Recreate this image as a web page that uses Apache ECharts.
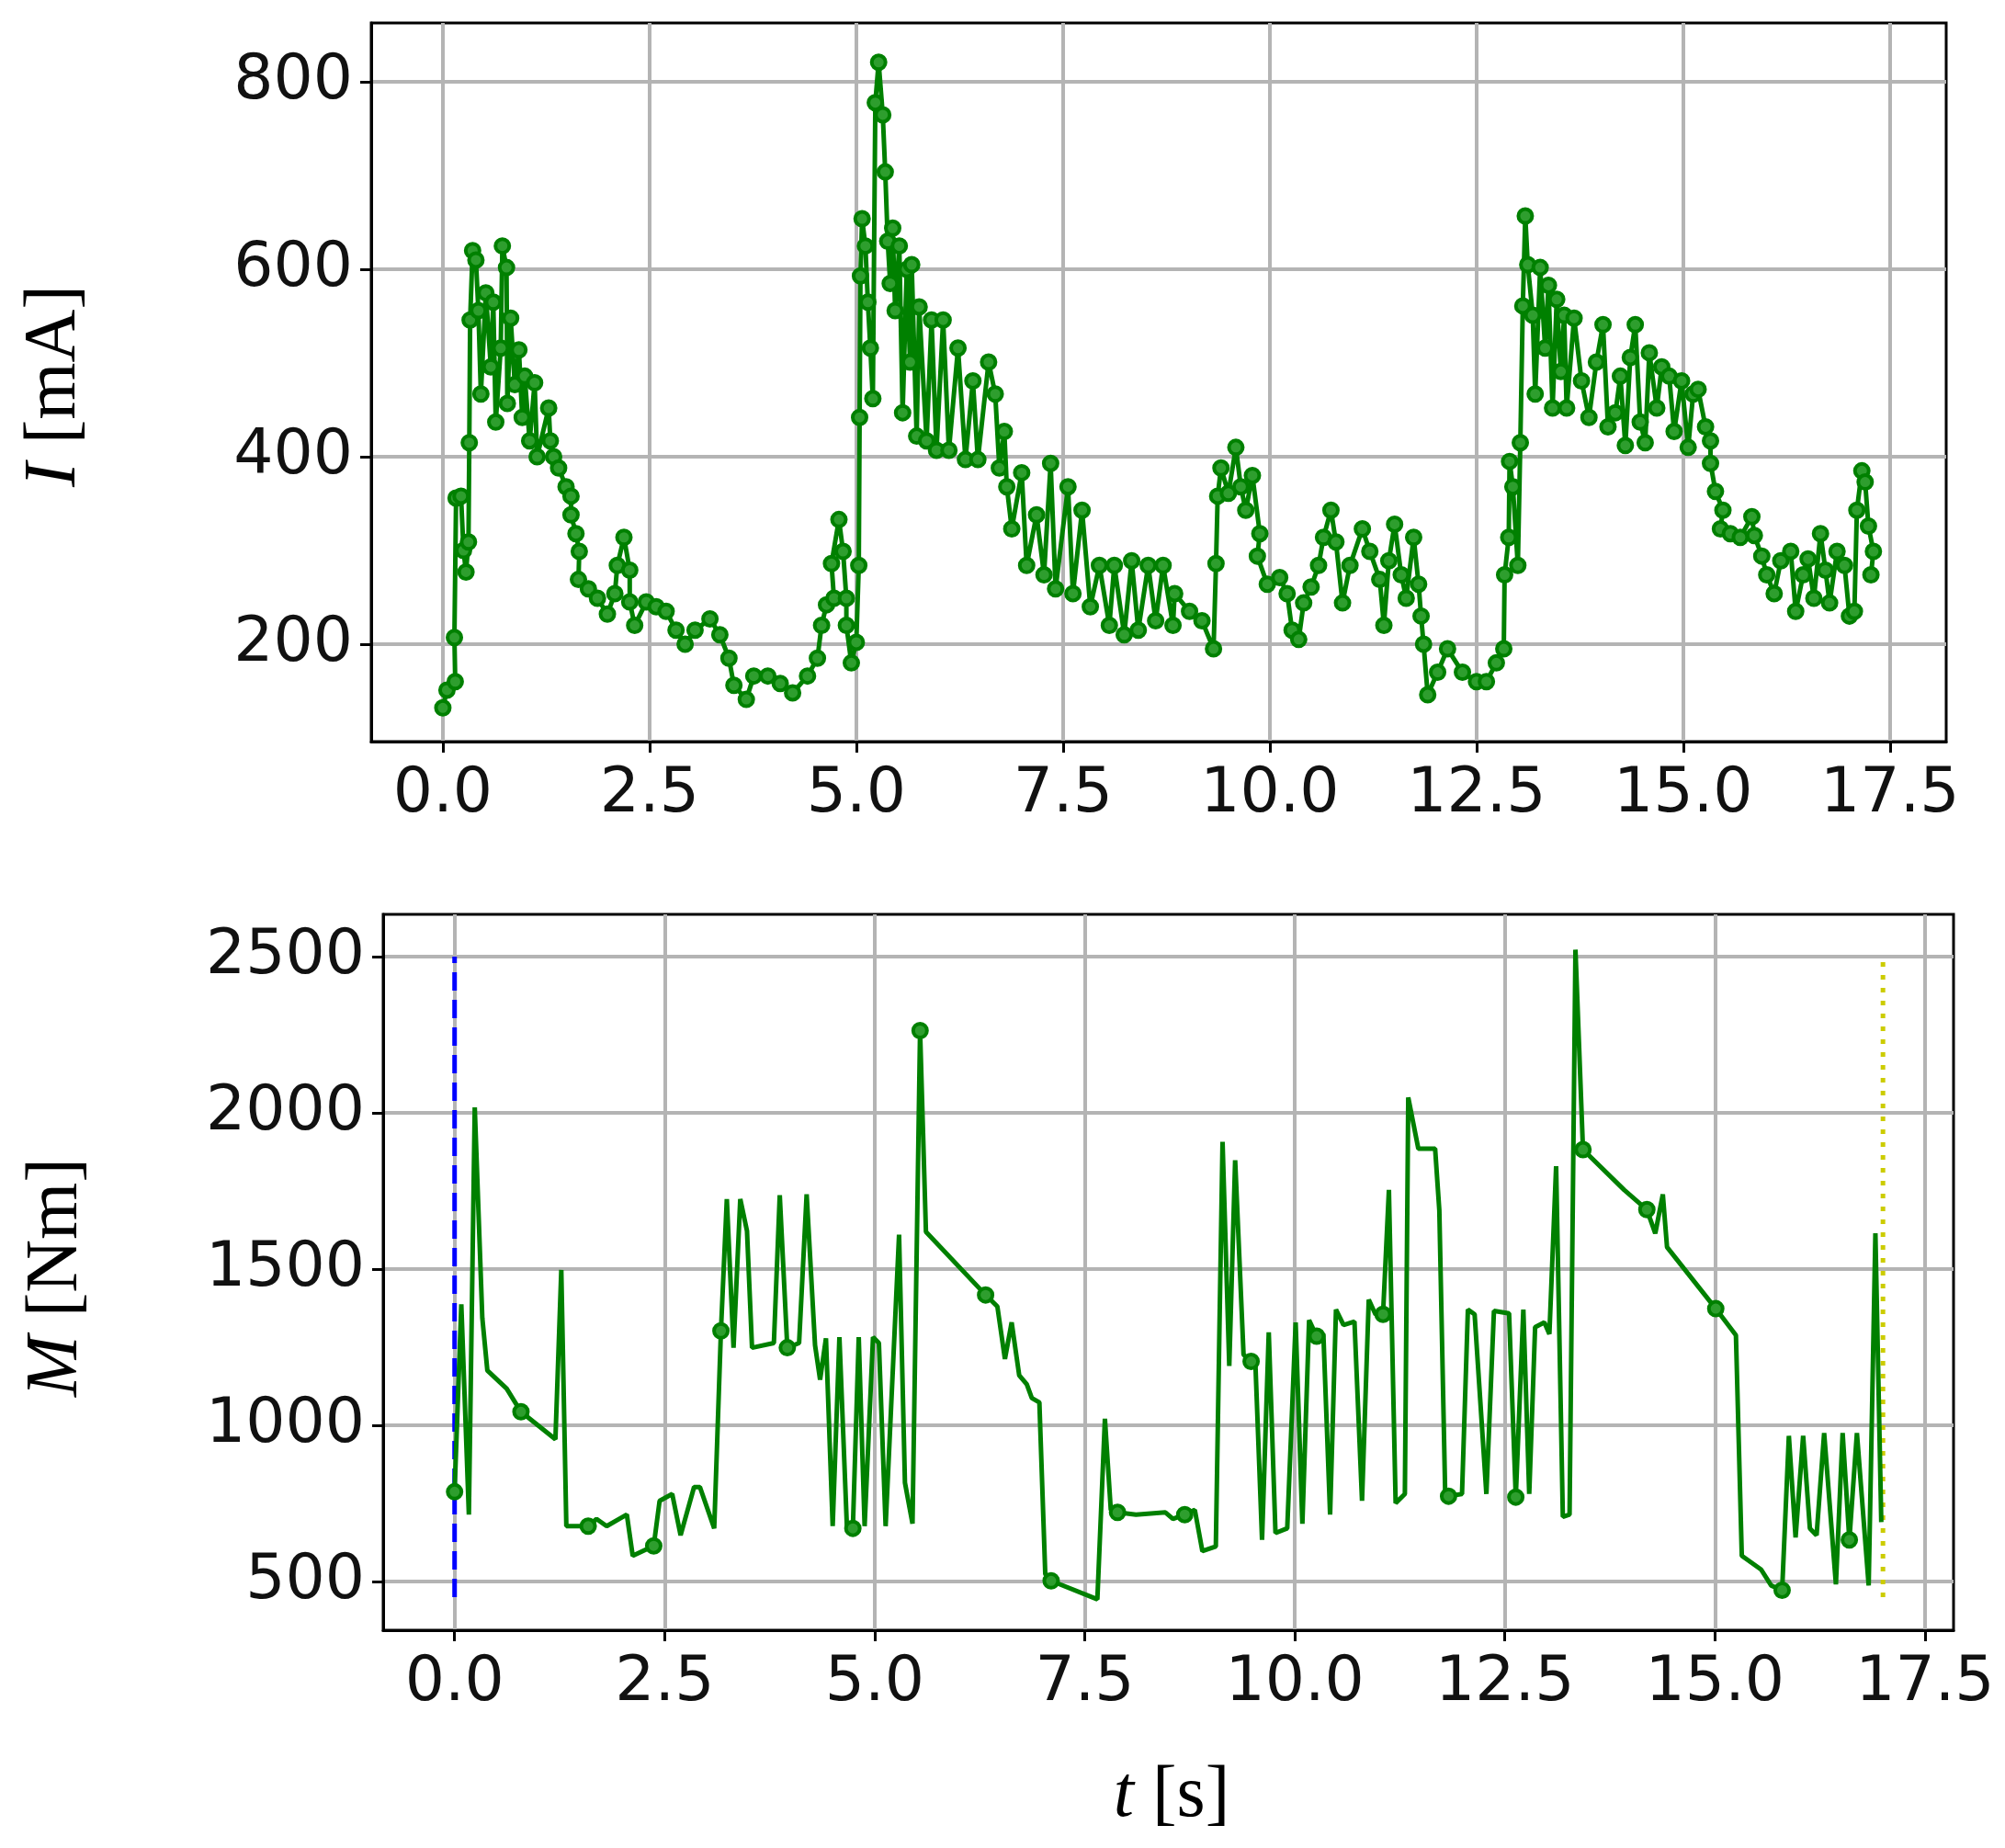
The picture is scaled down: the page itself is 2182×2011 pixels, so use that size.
<!DOCTYPE html>
<html>
<head>
<meta charset="utf-8">
<script src="https://cdn.jsdelivr.net/npm/echarts@6/dist/echarts.min.js"></script>
<style>
html, body { margin: 0; padding: 0; background: #fff; }
#chart { width: 2182px; height: 2011px; }
</style>
</head>
<body>
<div id="chart"></div>
<script>
// current I [mA] over time
const tI = [0, 0.05, 0.15, 0.14, 0.16, 0.22, 0.25, 0.28, 0.31, 0.32, 0.33, 0.36, 0.4, 0.43, 0.46, 0.52, 0.58, 0.61, 0.64, 0.7, 0.72, 0.77, 0.78, 0.82, 0.87, 0.92, 0.96, 0.99, 1.05, 1.11, 1.14, 1.28, 1.3, 1.34, 1.4, 1.49, 1.55, 1.55, 1.61, 1.65, 1.64, 1.76, 1.87, 1.99, 2.08, 2.11, 2.19, 2.26, 2.26, 2.32, 2.46, 2.58, 2.7, 2.82, 2.93, 3.05, 3.23, 3.35, 3.46, 3.52, 3.67, 3.76, 3.93, 4.08, 4.23, 4.41, 4.53, 4.58, 4.64, 4.73, 4.7, 4.79, 4.84, 4.88, 4.88, 4.94, 5.0, 5.03, 5.04, 5.05, 5.07, 5.11, 5.14, 5.17, 5.2, 5.23, 5.27, 5.32, 5.35, 5.38, 5.41, 5.44, 5.47, 5.52, 5.56, 5.61, 5.65, 5.67, 5.73, 5.76, 5.85, 5.91, 5.97, 6.05, 6.12, 6.23, 6.32, 6.41, 6.47, 6.6, 6.68, 6.73, 6.79, 6.82, 6.88, 7.0, 7.06, 7.18, 7.27, 7.35, 7.41, 7.56, 7.62, 7.73, 7.83, 7.94, 8.06, 8.12, 8.24, 8.33, 8.41, 8.53, 8.62, 8.71, 8.83, 8.85, 9.03, 9.18, 9.32, 9.35, 9.37, 9.41, 9.5, 9.59, 9.65, 9.71, 9.79, 9.88, 9.85, 9.97, 10.12, 10.21, 10.27, 10.35, 10.41, 10.5, 10.59, 10.65, 10.74, 10.8, 10.88, 10.97, 11.12, 11.21, 11.33, 11.38, 11.44, 11.51, 11.59, 11.65, 11.74, 11.8, 11.83, 11.86, 11.91, 12.03, 12.15, 12.33, 12.5, 12.62, 12.74, 12.83, 12.84, 12.89, 12.9, 12.94, 13.0, 13.03, 13.06, 13.09, 13.12, 13.18, 13.21, 13.27, 13.33, 13.37, 13.42, 13.47, 13.52, 13.56, 13.59, 13.68, 13.77, 13.86, 13.95, 14.03, 14.09, 14.18, 14.24, 14.3, 14.36, 14.42, 14.48, 14.54, 14.59, 14.68, 14.74, 14.83, 14.89, 14.98, 15.06, 15.12, 15.18, 15.27, 15.33, 15.33, 15.39, 15.48, 15.45, 15.57, 15.69, 15.83, 15.86, 15.95, 16.01, 16.1, 16.18, 16.3, 16.36, 16.45, 16.51, 16.58, 16.66, 16.72, 16.77, 16.86, 16.95, 17.01, 17.07, 17.1, 17.16, 17.2, 17.24, 17.3, 17.27];
const vI = [132, 151, 160, 207, 356, 358, 300, 277, 309, 415, 546, 620, 610, 556, 467, 575, 496, 565, 437, 516, 625, 602, 457, 548, 477, 514, 442, 486, 417, 479, 400, 452, 417, 400, 388, 368, 358, 338, 318, 299, 269, 259, 249, 232, 254, 284, 314, 279, 245, 220, 245, 240, 235, 215, 200, 215, 227, 210, 185, 156, 141, 166, 166, 158, 148, 166, 185, 220, 242, 249, 286, 333, 299, 249, 220, 180, 202, 284, 442, 593, 654, 625, 565, 516, 462, 778, 821, 765, 704, 630, 585, 644, 556, 625, 447, 600, 501, 605, 422, 560, 417, 546, 407, 546, 407, 516, 397, 481, 397, 501, 467, 388, 427, 368, 323, 383, 284, 338, 274, 393, 259, 368, 254, 343, 240, 284, 220, 284, 210, 289, 215, 284, 225, 284, 220, 254, 235, 225, 195, 286, 358, 388, 361, 410, 368, 343, 380, 318, 294, 264, 271, 254, 215, 205, 244, 261, 284, 314, 343, 309, 244, 284, 323, 299, 269, 220, 289, 328, 274, 249, 314, 264, 230, 200, 146, 170, 195, 170, 160, 160, 180, 195, 274, 314, 395, 368, 284, 415, 561, 657, 605, 551, 467, 602, 516, 583, 452, 568, 491, 551, 452, 548, 481, 442, 501, 541, 432, 447, 486, 412, 506, 541, 437, 415, 511, 452, 496, 486, 427, 481, 410, 467, 472, 432, 417, 393, 363, 343, 323, 318, 314, 336, 316, 294, 274, 254, 289, 299, 235, 274, 291, 249, 318, 279, 244, 299, 284, 230, 235, 343, 385, 373, 326, 299, 274];

// torque M [Nm] over time
const tM = [0, 0.08, 0.17, 0.24, 0.33, 0.39, 0.62, 0.79, 1.2, 1.27, 1.33, 1.59, 1.69, 1.81, 2.05, 2.12, 2.37, 2.44, 2.59, 2.69, 2.85, 2.92, 3.09, 3.17, 3.24, 3.32, 3.4, 3.48, 3.54, 3.8, 3.87, 3.96, 4.1, 4.19, 4.29, 4.35, 4.42, 4.5, 4.58, 4.67, 4.74, 4.81, 4.88, 4.98, 5.05, 5.13, 5.29, 5.36, 5.45, 5.54, 5.61, 6.32, 6.46, 6.55, 6.63, 6.72, 6.81, 6.87, 6.96, 7.03, 7.1, 7.65, 7.74, 7.81, 7.89, 8.11, 8.46, 8.55, 8.69, 8.81, 8.9, 9.06, 9.14, 9.22, 9.29, 9.39, 9.48, 9.53, 9.61, 9.69, 9.77, 9.91, 10.01, 10.09, 10.17, 10.26, 10.34, 10.42, 10.49, 10.58, 10.71, 10.8, 10.88, 10.96, 11.05, 11.12, 11.2, 11.31, 11.35, 11.47, 11.67, 11.72, 11.79, 11.83, 11.99, 12.06, 12.14, 12.28, 12.37, 12.55, 12.63, 12.72, 12.79, 12.86, 12.97, 13.03, 13.11, 13.19, 13.27, 13.34, 13.43, 13.92, 14.19, 14.29, 14.38, 14.43, 15.01, 15.25, 15.32, 15.55, 15.67, 15.8, 15.88, 15.96, 16.05, 16.13, 16.21, 16.3, 16.44, 16.52, 16.6, 16.69, 16.83, 16.91, 16.98];
const vM = [787, 1387, 714, 2017, 1343, 1175, 1117, 1043, 955, 1497, 677, 677, 700, 677, 714, 582, 614, 758, 780, 648, 802, 802, 670, 1302, 1724, 1248, 1724, 1622, 1248, 1263, 1736, 1248, 1263, 1739, 1256, 1146, 1278, 677, 1282, 670, 670, 1282, 677, 1282, 1263, 677, 1610, 816, 685, 2263, 1619, 1417, 1380, 1212, 1329, 1160, 1131, 1087, 1073, 524, 502, 443, 1021, 729, 721, 714, 721, 700, 714, 729, 597, 612, 1907, 1190, 1848, 1226, 1204, 1204, 633, 1297, 655, 670, 1329, 685, 1336, 1285, 1292, 714, 1370, 1321, 1332, 758, 1402, 1355, 1355, 1753, 751, 780, 2049, 1885, 1885, 1688, 780, 773, 780, 1370, 1355, 780, 1366, 1358, 770, 1370, 780, 1314, 1329, 1292, 1829, 707, 714, 2522, 1882, 1753, 1690, 1614, 1739, 1570, 1373, 1288, 582, 538, 487, 472, 966, 641, 966, 670, 648, 975, 491, 975, 633, 975, 487, 1614, 690];
const markedM = [0, 7, 11, 16, 23, 31, 40, 49, 51, 60, 64, 68, 76, 85, 94, 103, 110, 120, 122, 126, 131, 140];

const xTicks = [0, 2.5, 5, 7.5, 10, 12.5, 15, 17.5];
const yTicksI = [200, 400, 600, 800];
const yTicksM = [500, 1000, 1500, 2000, 2500];
const markerLineT = [0, 17.0];

const green = '#008000';
const tickFont = { fontFamily: 'DejaVu Sans', fontSize: 68, color: '#111' };

function xAxis(gi, min, max) {
  return {
    type: 'value', gridIndex: gi, min: min, max: max,
    axisLine: { show: true, onZero: false, lineStyle: { color: '#000', width: 3 } },
    axisTick: { show: true, length: 12, customValues: xTicks, lineStyle: { color: '#000', width: 3 } },
    axisLabel: Object.assign({ customValues: xTicks, margin: 24, formatter: v => v.toFixed(1) }, tickFont),
    splitLine: { show: true, lineStyle: { color: '#b4b4b4', width: 4 } }
  };
}
function yAxis(gi, min, max, ticks) {
  return {
    type: 'value', gridIndex: gi, min: min, max: max,
    axisLine: { show: true, onZero: false, lineStyle: { color: '#000', width: 3 } },
    axisTick: { show: true, length: 12, customValues: ticks, lineStyle: { color: '#000', width: 3 } },
    axisLabel: Object.assign({ customValues: ticks, margin: 20, formatter: v => String(v) }, tickFont),
    splitLine: { show: true, lineStyle: { color: '#b4b4b4', width: 4 } }
  };
}

const titleStyle = (txt) => ({
  text: txt, fill: '#000', align: 'center', verticalAlign: 'middle',
  font: '80px "Liberation Serif"',
  rich: { i: { fontStyle: 'italic', fontFamily: 'Liberation Serif', fontSize: 80 } }
});

const chart = echarts.init(document.getElementById('chart'));
chart.setOption({
  animation: false,
  backgroundColor: '#fff',
  grid: [
    { left: 404, top: 25, width: 1714, height: 782, show: true, borderColor: '#000', borderWidth: 3 },
    { left: 417, top: 995, width: 1709, height: 779, show: true, borderColor: '#000', borderWidth: 3 }
  ],
  xAxis: [xAxis(0, -0.866, 18.18), xAxis(1, -0.85, 17.84)],
  yAxis: [yAxis(0, 96, 863, yTicksI), yAxis(1, 344, 2635, yTicksM)],
  series: [
    {
      type: 'line', xAxisIndex: 0, yAxisIndex: 0,
      data: tI.map((t, i) => [t, vI[i]]),
      lineStyle: { color: green, width: 5 },
      symbol: 'circle', symbolSize: 15, showAllSymbol: true,
      itemStyle: { color: '#2e9e2e', borderColor: green, borderWidth: 4 }
    },
    {
      type: 'line', xAxisIndex: 1, yAxisIndex: 1, z: 3,
      data: [[markerLineT[0], 450], [markerLineT[0], 2500]],
      lineStyle: { color: '#0000ff', width: 5, type: [20, 10] }, symbol: 'none'
    },
    {
      type: 'line', xAxisIndex: 1, yAxisIndex: 1, z: 3,
      data: [[markerLineT[1], 450], [markerLineT[1], 2500]],
      lineStyle: { color: '#cccc00', width: 5, type: [5, 9] }, symbol: 'none'
    },
    {
      type: 'line', xAxisIndex: 1, yAxisIndex: 1, z: 4,
      data: tM.map((t, i) => markedM.includes(i)
        ? { value: [t, vM[i]], symbol: 'circle' }
        : { value: [t, vM[i]], symbol: 'none' }),
      lineStyle: { color: green, width: 5 },
      symbolSize: 15, showAllSymbol: true,
      itemStyle: { color: '#2e9e2e', borderColor: green, borderWidth: 4 }
    }
  ],
  graphic: [
    { type: 'text', x: 60, y: 420, rotation: Math.PI / 2, style: titleStyle('{i|I} [mA]') },
    { type: 'text', x: 62, y: 1390, rotation: Math.PI / 2, style: titleStyle('{i|M} [Nm]') },
    { type: 'text', x: 1275, y: 1955, style: titleStyle('{i|t} [s]') }
  ]
});
</script>
</body>
</html>
